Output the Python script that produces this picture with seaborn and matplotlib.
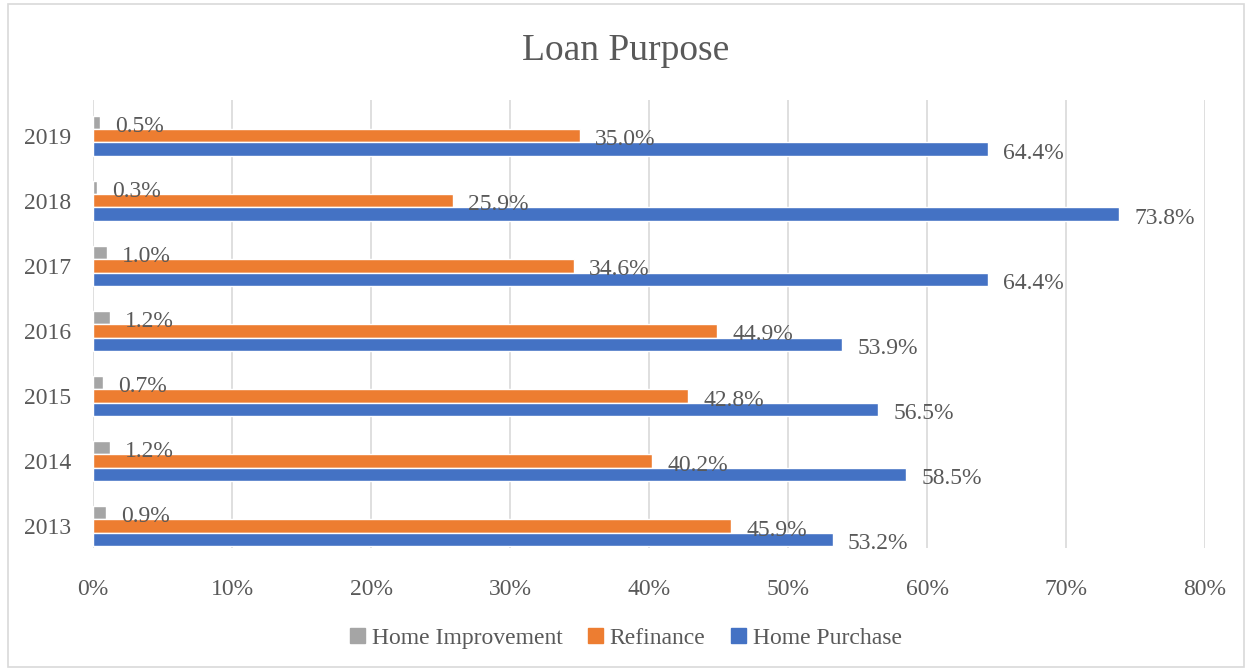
import matplotlib.pyplot as plt
import seaborn as sns
import pandas as pd
from matplotlib.patches import Rectangle, Patch

years = ['2019', '2018', '2017', '2016', '2015', '2014', '2013']
home_improvement = [0.5, 0.3, 1.0, 1.2, 0.7, 1.2, 0.9]
refinance = [35.0, 25.9, 34.6, 44.9, 42.8, 40.2, 45.9]
home_purchase = [64.4, 73.8, 64.4, 53.9, 56.5, 58.5, 53.2]
series = ['Home Improvement', 'Refinance', 'Home Purchase']
colors = ['#A5A5A5', '#ED7D31', '#4472C4']

rows = []
for name, vals in zip(series, [home_improvement, refinance, home_purchase]):
    for y, v in zip(years, vals):
        rows.append({'Year': y, 'Purpose': name, 'Share': v})
df = pd.DataFrame(rows)

sns.set_style('white')
plt.rcParams['font.family'] = ['Liberation Serif', 'DejaVu Serif']
text_color = '#595959'

fig = plt.figure(figsize=(12.52, 6.71), dpi=100)
ax = fig.add_axes([0.0743, 0.1833, 0.8882, 0.6677])

sns.barplot(data=df, x='Share', y='Year', hue='Purpose', order=years,
            hue_order=series, palette=colors, orient='h', width=0.62,
            saturation=1, legend=False, ax=ax)

# data labels, a bit right of the bar end and slightly low, like Excel
for cont in ax.containers:
    for bar in cont:
        w = bar.get_width()
        yc = bar.get_y() + bar.get_height() / 2
        ax.annotate(f'{w:.1f}%', (w, yc), xytext=(11, -3), textcoords='offset points',
                    va='center', ha='left', fontsize=17, color=text_color)

ax.set_xlim(0, 80)
ax.set_ylim(6.34, -0.55)
ax.set_xticks(range(0, 81, 10))
ax.set_xticklabels([f'{t}%' for t in range(0, 81, 10)])
ax.tick_params(axis='both', length=0, labelsize=17, labelcolor=text_color)
ax.tick_params(axis='x', pad=22)
ax.tick_params(axis='y', pad=16)
ax.set_xlabel('')
ax.set_ylabel('')
ax.grid(axis='x', color='#D9D9D9', linewidth=1.2)
ax.set_axisbelow(True)
for s in ax.spines.values():
    s.set_visible(False)

fig.text(0.5, 0.925, 'Loan Purpose', ha='center', va='center', fontsize=27, color=text_color)

handles = [Patch(color=c, label=s) for s, c in zip(series, colors)]
fig.legend(handles=handles, loc='center', bbox_to_anchor=(0.5, 0.048), ncol=3,
           frameon=False, fontsize=17, labelcolor=text_color, handlelength=0.6,
           handleheight=0.6, handletextpad=0.3, columnspacing=1.1)

fig.patches.append(Rectangle((0.006, 0.006), 0.988, 0.988, transform=fig.transFigure,
                             fill=False, edgecolor='#D9D9D9', linewidth=1.2))

fig.savefig('out.png', dpi=100)
